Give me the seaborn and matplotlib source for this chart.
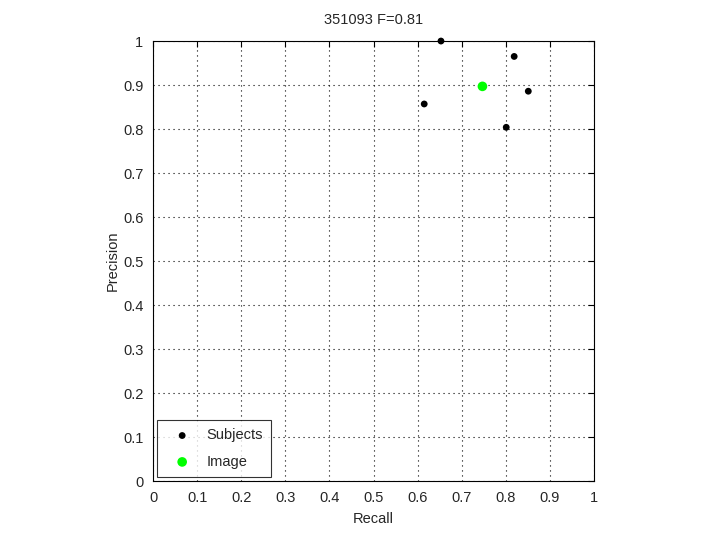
import matplotlib
matplotlib.use("Agg")
import matplotlib.pyplot as plt
import seaborn as sns
import pandas as pd

# values
subj_recall = [0.653, 0.819, 0.851, 0.615, 0.801]
subj_precision = [1.0, 0.965, 0.886, 0.857, 0.804]
img_recall = [0.747]
img_precision = [0.897]
title = "351093 F=0.81"
ticks = [i / 10 for i in range(11)]
tick_labels = ["0", "0.1", "0.2", "0.3", "0.4", "0.5", "0.6", "0.7", "0.8", "0.9", "1"]

sns.set_style("white")
plt.rcParams["font.family"] = ["Liberation Sans", "DejaVu Sans"]
fs = 10.5

subjects = pd.DataFrame({"Recall": subj_recall, "Precision": subj_precision})
image = pd.DataFrame({"Recall": img_recall, "Precision": img_precision})

fig = plt.figure(figsize=(7.2, 5.4), dpi=100)
ax = fig.add_axes([0.2125, 0.109, 0.6125, 0.815])

sns.scatterplot(data=subjects, x="Recall", y="Precision", ax=ax, color="black",
                s=24, edgecolor="none", label="Subjects", zorder=3, clip_on=False)
sns.scatterplot(data=image, x="Recall", y="Precision", ax=ax, color="#00ff00",
                s=48, edgecolor="none", label="Image", zorder=3, clip_on=False)

ax.set_xlim(0, 1)
ax.set_ylim(0, 1)
ax.set_xticks(ticks)
ax.set_yticks(ticks)
ax.set_xticklabels(tick_labels)
ax.set_yticklabels(tick_labels)
ax.grid(True, linestyle=(0, (1, 3.5)), color="black", linewidth=0.8)
ax.tick_params(direction="in", length=4, top=True, right=True, color="black",
               labelsize=fs, pad=7)
for sp in ax.spines.values():
    sp.set_color("black")
    sp.set_linewidth(0.8)
ax.set_title(title, fontsize=fs, pad=12)
ax.set_xlabel("Recall", fontsize=fs, labelpad=5)
ax.set_ylabel("Precision", fontsize=fs, labelpad=2)

leg = ax.legend(loc="lower left", frameon=True, fancybox=False, fontsize=fs,
                borderaxespad=0.3, handletextpad=0.5, labelspacing=0.85,
                borderpad=0.55, handlelength=2.3, markerscale=1.0)
leg.get_frame().set_edgecolor("black")
leg.get_frame().set_linewidth(0.8)

fig.savefig("out.png", dpi=100, facecolor="white")
